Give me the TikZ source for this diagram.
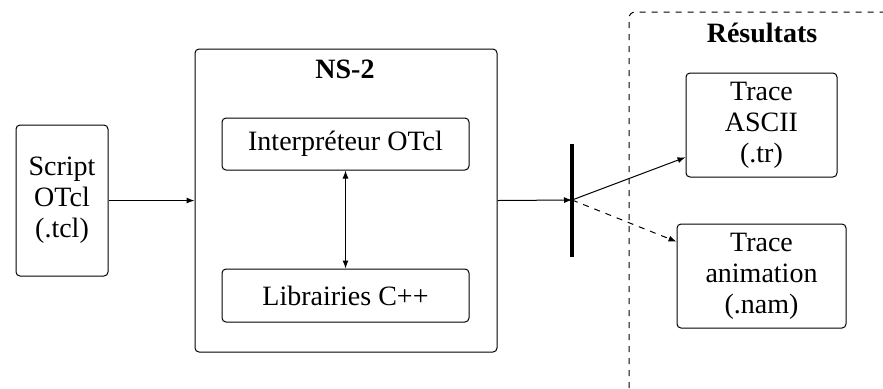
\documentclass[tikz,border=0pt]{standalone}
\usepackage{fontspec}
\setmainfont{Liberation Serif}
\usetikzlibrary{arrows.meta}
\begin{document}
\begin{tikzpicture}[x=0.5pt,y=-0.5pt,
  every node/.style={font=\fontsize{14}{15.5}\selectfont, align=center, inner sep=0pt},
  box/.style={draw, line width=0.5pt, rounded corners=2pt},
  conn/.style={line width=0.5pt, -{Latex[length=4pt,width=3pt]}},
  title/.style={font=\fontsize{14}{15.5}\selectfont\bfseries}]
\useasboundingbox (0,0) rectangle (883,388);
% result region
\coordinate (rb) at (629,388);
\coordinate (rt) at (629,12);
\coordinate (rr) at (883,12);
\draw[dashed, line width=0.5pt, rounded corners=3pt] (rb) -- (rt) -- (rr);
\node[title] (restitle) at (762,33) {Résultats};
% nodes
\node[box, minimum width=46pt, minimum height=75.5pt] (script) at (62,200.5) {Script\\OTcl\\(.tcl)};
\node[box, minimum width=151pt, minimum height=151.5pt] (ns2) at (346,200.5) {};
\node[title] (nstitle) at (345,69) {NS-2};
\node[box, minimum width=123.5pt, minimum height=26pt] (interp) at (345.5,144) {Interpréteur OTcl};
\node[box, minimum width=123.5pt, minimum height=26.5pt] (lib) at (345.5,295.5) {Librairies C++};
\node[box, minimum width=75.5pt, minimum height=52pt] (ascii) at (761.5,125) {Trace\\ASCII\\(.tr)};
\node[box, minimum width=84.5pt, minimum height=52pt] (anim) at (761.5,276) {Trace\\animation\\(.nam)};
% bar
\coordinate (bar) at (572,200);
\coordinate (bartop) at (572,144);
\coordinate (barbot) at (572,257);
\draw[line width=1.6pt] (bartop) -- (barbot);
% connectors
\draw[conn] (script.east) -- (ns2.west);
\draw[line width=0.5pt, {Latex[length=4pt,width=3pt]}-{Latex[length=4pt,width=3pt]}] (interp.south) -- (lib.north);
\draw[conn] (ns2.east) -- (bar);
\draw[conn] (bar) -- (ascii.203);
\draw[conn, dashed] (bar) -- (anim.158);
\end{tikzpicture}
\end{document}
